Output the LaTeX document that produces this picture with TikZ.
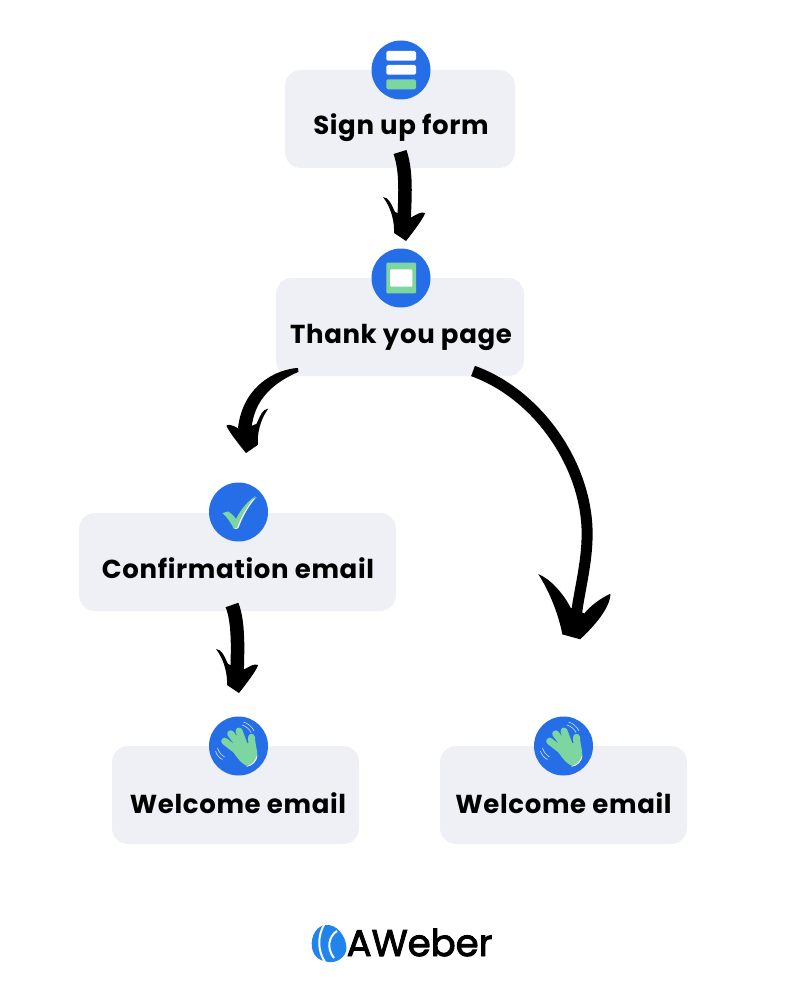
\documentclass[tikz,border=0pt]{standalone}
\usepackage{fontspec}
\setmainfont{Poppins}[LetterSpace=2.5]
\newfontfamily\logofont{Poppins}[FakeBold=2.6]
\usetikzlibrary{arrows.meta}
\definecolor{boxgray}{HTML}{EFF0F6}
\definecolor{iconblue}{HTML}{266EE8}
\definecolor{icongreen}{HTML}{7DD6A0}
\pgfdeclarearrow{
  name = Brush,
  setup code = {
    \pgfarrowssettipend{0pt}
    \pgfarrowssetbackend{-64pt}
    \pgfarrowssetlineend{-20pt}
    \pgfarrowssetvisualbackend{-20pt}
  },
  drawing code = {
    \pgfpathmoveto{\pgfpoint{-1pt}{5pt}}
    \pgfpathlineto{\pgfpoint{-5pt}{-13pt}}
    \pgfpathcurveto{\pgfpoint{-15pt}{-15pt}}{\pgfpoint{-42pt}{-24pt}}{\pgfpoint{-64pt}{-40pt}}
    \pgfpathcurveto{\pgfpoint{-60pt}{-28pt}}{\pgfpoint{-46pt}{-14pt}}{\pgfpoint{-32pt}{-6pt}}
    \pgfpathlineto{\pgfpoint{-27pt}{8pt}}
    \pgfpathcurveto{\pgfpoint{-35pt}{14pt}}{\pgfpoint{-42pt}{22pt}}{\pgfpoint{-48pt}{33pt}}
    \pgfpathcurveto{\pgfpoint{-35pt}{34pt}}{\pgfpoint{-15pt}{19pt}}{\pgfpoint{-1pt}{5pt}}
    \pgfpathclose
    \pgfusepathqfill
  }
}
\pgfdeclarearrow{
  name = BrushSmall,
  setup code = {
    \pgfarrowssettipend{0pt}
    \pgfarrowssetbackend{-44pt}
    \pgfarrowssetlineend{-14pt}
    \pgfarrowssetvisualbackend{-14pt}
    \pgfarrowssavethe\pgfarrowwidth
  },
  drawing code = {
    \pgfmathparse{\pgfarrowwidth}
    \pgftransformyscale{\pgfmathresult}
    \pgfpathmoveto{\pgfpoint{0pt}{2pt}}
    \pgfpathlineto{\pgfpoint{-8pt}{-10pt}}
    \pgfpathcurveto{\pgfpoint{-18pt}{-9.5pt}}{\pgfpoint{-32pt}{-12pt}}{\pgfpoint{-44pt}{-21pt}}
    \pgfpathcurveto{\pgfpoint{-44pt}{-15pt}}{\pgfpoint{-35pt}{-12pt}}{\pgfpoint{-29pt}{-9pt}}
    \pgfpathlineto{\pgfpoint{-23pt}{6pt}}
    \pgfpathcurveto{\pgfpoint{-26pt}{12pt}}{\pgfpoint{-30pt}{17pt}}{\pgfpoint{-28pt}{21pt}}
    \pgfpathcurveto{\pgfpoint{-25pt}{21pt}}{\pgfpoint{-10pt}{10pt}}{\pgfpoint{0pt}{2pt}}
    \pgfpathclose
    \pgfusepathqfill
  },
  defaults = {width = 1pt}
}
\tikzset{
  stepbox/.style={fill=boxgray, rounded corners=16pt, inner sep=0pt,
    minimum height=98pt, text height=42pt, text depth=10pt,
    font=\fontsize{26}{30}\selectfont\bfseries},
  iconcircle/.style={circle, fill=iconblue, minimum size=59pt, inner sep=0pt},
  brush/.style={line width=13.5pt, black},
  brushsmall/.style={brush, -{BrushSmall}},
  brushflip/.style={brush, line width=4pt, -{BrushSmall[width=-1pt]}},
  brushbig/.style={brush, line width=11pt, -{Brush}},
  pics/wave/.style={code={
    \draw[icongreen, line width=7pt, line cap=round]
      (-13.8,-4.8) -- (4,9) (-7.8,-12.2) -- (6,6) (0.5,-15) -- (8,5) (13,-8.7) -- (14,6);
    \fill[icongreen] (-7,3) -- (10,-3) -- (16.5,-5) .. controls (18,3) and (20,8) .. (18,13)
      .. controls (16,18) and (12,20) .. (8,19.5) .. controls (3,18) and (-3,10) .. cycle;
    \draw[white, line width=.8pt] (18.5,10) .. controls (18,15) and (13,20) .. (8,20.3);
    \draw[white!80!iconblue, line width=.6pt] (3.5,-21) .. controls (7,-20) and (11,-17) .. (12.5,-13.5)
      (5,-24) .. controls (9,-23) and (14,-19) .. (15.5,-15)
      (-23,5) .. controls (-22,9) and (-19,12) .. (-16,13.5)
      (-21,2) .. controls (-20,6) and (-17,9) .. (-14,11);
  }},
}
\begin{document}
\begin{tikzpicture}[x=1pt,y=-1pt]
  \useasboundingbox (0,0) rectangle (800,1000);
  % boxes
  \node [stepbox, minimum width=230pt] (B0_0) at (400,119) {\hspace*{2pt}Sign up form};
  \node [stepbox, minimum width=248pt] (B1_0) at (400,327) {\hspace*{2pt}Thank you page};
  \node [stepbox, minimum width=317pt] (B2_0) at (237.5,562) {\hspace*{1pt}Confirmation email};
  \node [stepbox, minimum width=247pt, text height=45pt, text depth=8pt] (B3_0) at (235.5,795) {\hspace*{5pt}Welcome email};
  \node [stepbox, minimum width=247pt, text height=45pt, text depth=8pt] (B3_1) at (563.5,795) {Welcome email};
  % icons
  \node [iconcircle] (I0_0) at (401,70) {};
  \node [iconcircle] (I1_0) at (401,278) {};
  \node [iconcircle] (I2_0) at (238.5,512) {};
  \node [iconcircle] (I3_0) at (238.5,746) {};
  \node [iconcircle] (I3_1) at (563.5,746) {};
  \fill [white, rounded corners=1.5pt] (386.3,51) rectangle (416,60.7) (386.3,65) rectangle (416,74.7);
  \fill [icongreen, rounded corners=1.5pt] (386.3,79.3) rectangle (416,89.3);
  \fill [icongreen, rounded corners=1pt] (386.3,262.7) rectangle (416,293.3);
  \fill [white, rounded corners=1pt] (390,269.3) rectangle (412.3,286.7);
  \fill [white] (233,528) .. controls (238,530) and (238,529) .. (240,524)
    .. controls (244,514) and (250,504) .. (256.5,497) .. controls (248,502) and (240,512) .. (233,528) -- cycle;
  \fill [icongreen] (222.5,513) -- (228,511.5) .. controls (231,513) and (234,516) .. (236,519)
    .. controls (241,509) and (248,501) .. (255.5,496) .. controls (248,505) and (241,516) .. (237,528)
    -- (233.5,528) .. controls (231,523) and (227,517) .. (222.5,513) -- cycle;
  \pic at (I3_0) {wave};
  \pic at (I3_1) {wave};
  % arrows
  \coordinate (T0_0) at (400,152);
  \coordinate (H0_0) at (404,241);
  \coordinate (T1_0) at (298,370);
  \coordinate (H1_0) at (248,453);
  \coordinate (T1_1) at (473,371);
  \coordinate (H1_1) at (575,640);
  \coordinate (T2_0) at (232,605);
  \coordinate (H2_0) at (237,693);
  \draw [brushsmall] (T0_0) .. controls (408,175) and (404,205) .. (H0_0);
  \draw [brushflip] (T1_0) .. controls (268,375) and (247,395) .. (H1_0);
  \fill (T1_0) ++(0,-2) .. controls (277,369) and (243,385) .. (238,428) -- (251,438)
    .. controls (251,410) and (262,388) .. (298,372) -- cycle;
  \draw [brushbig] (T1_1) .. controls (540,395) and (590,470) .. (587,540) .. controls (586,570) and (577,600) .. (H1_1);
  \draw [brushsmall] (T2_0) .. controls (240,625) and (237,660) .. (H2_0);
  % logo
  \node [inner sep=0pt, anchor=base west, font=\fontsize{37}{40}\logofont] (L0_0) at (346.5,956) {AWeber};
  \fill [iconblue!85!cyan] (312,948) .. controls (310,935) and (318,925) .. (326,925)
    .. controls (336,924) and (346,935) .. (346.5,948) .. controls (346,958) and (336,963) .. (329,962)
    .. controls (321,961) and (314,958) .. (312,948) -- cycle;
  \draw [white, line width=2pt] (324,925) .. controls (318,935) and (317,950) .. (325,962)
    (337,931) .. controls (329,936) and (326,948) .. (334,958);
\end{tikzpicture}
\end{document}
